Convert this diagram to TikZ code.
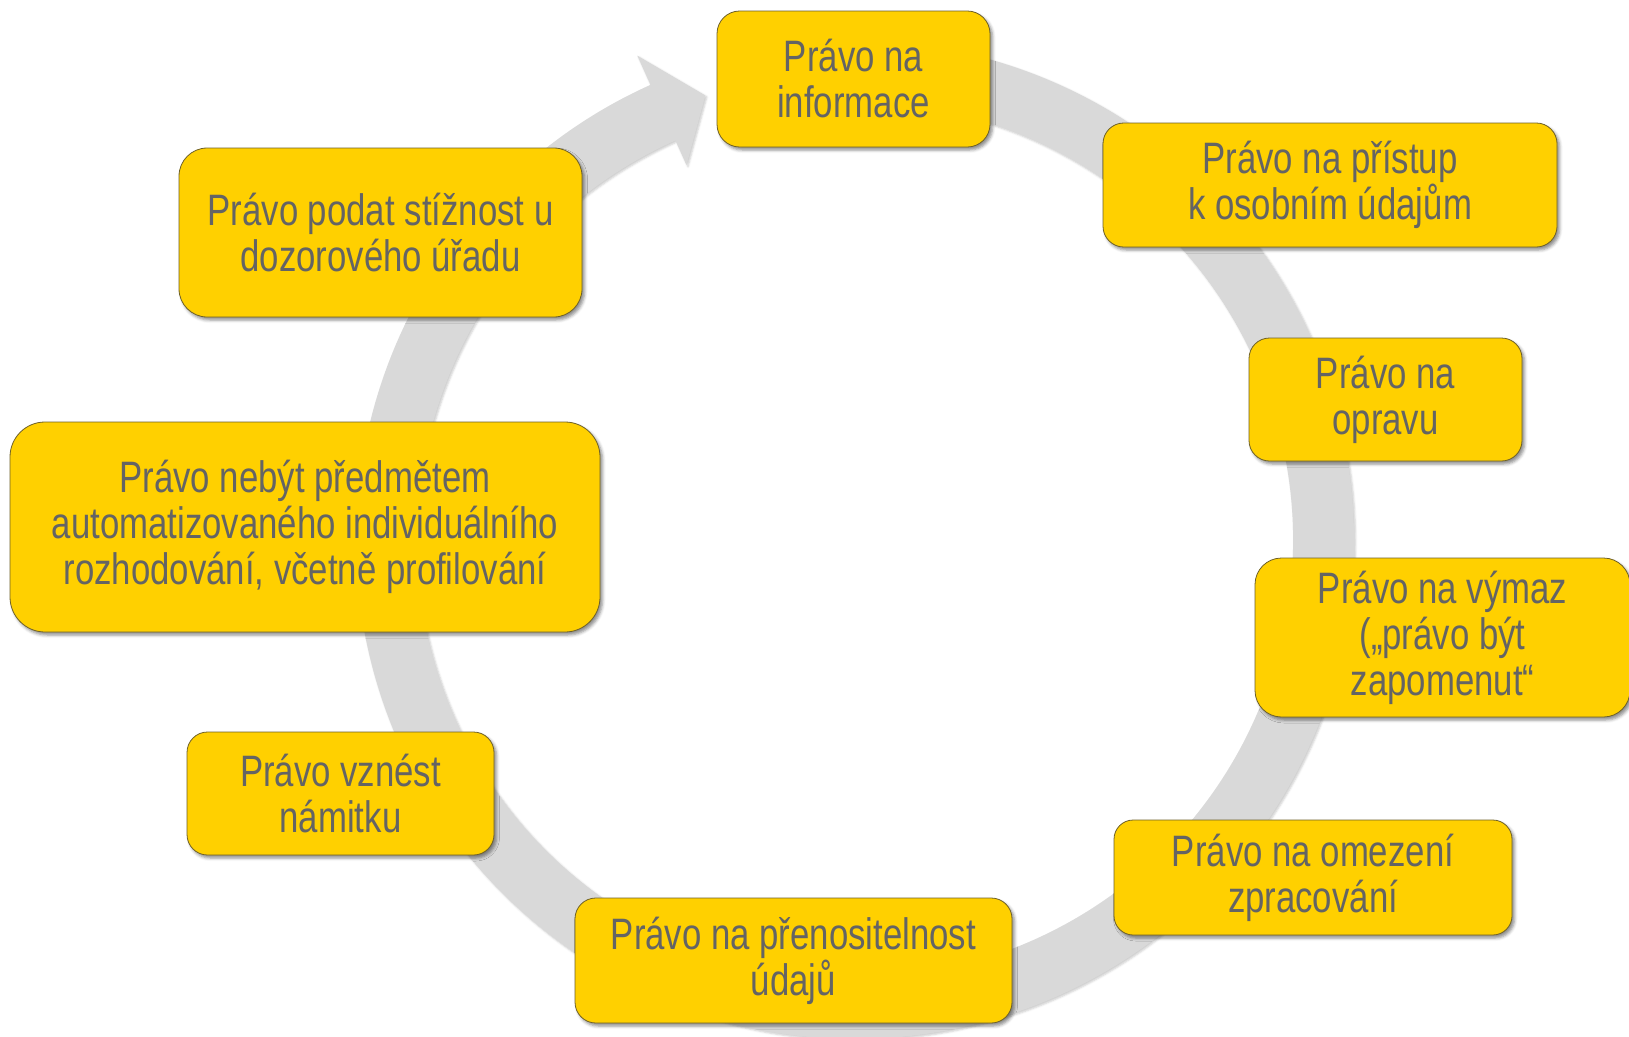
\documentclass[tikz,border=0pt]{standalone}
\usepackage{fontspec}
\setmainfont[FakeStretch=0.79]{Liberation Sans}
\usetikzlibrary{calc,shadows.blur}
\definecolor{boxfill}{RGB}{255,208,0}
\definecolor{boxline}{RGB}{110,96,40}
\definecolor{txtgray}{RGB}{100,100,100}
\definecolor{ringgray}{RGB}{217,217,217}
\begin{document}
\begin{tikzpicture}[x=1pt,y=-1pt,
  rbox/.style={draw=boxline, line width=0.8pt, fill=boxfill, text=txtgray,
    align=center, inner sep=0pt, outer sep=0pt,
    font=\fontsize{44}{46}\selectfont,
    blur shadow={shadow xshift=2.5pt, shadow yshift=-3pt,
      shadow blur radius=3pt, shadow opacity=45}},
  ring/.style={fill=ringgray,
    blur shadow={shadow xshift=1.5pt, shadow yshift=-1.5pt,
      shadow blur radius=2pt, shadow opacity=20}}
]
\useasboundingbox (0,0) rectangle (1629,1036);

% circular arrow running clockwise, its head pointing at the top box
\coordinate (c) at (855,540);
\fill[ring] ($(c)+(-95:499)$)
  arc[start angle=-95, end angle=245.8, radius=499]
  -- ($(c)+(245.8:531)$) -- ($(c)+(251.4:469)$) -- ($(c)+(245.8:411)$)
  -- ($(c)+(245.8:438)$)
  arc[start angle=245.8, end angle=-95, radius=438] -- cycle;

% the rights, placed around the ring
\node[rbox, minimum width=273pt, minimum height=136pt, rounded corners=22.7pt]
  (info) at (853.5,79) {Právo na\\informace};
\node[rbox, minimum width=454pt, minimum height=124pt, rounded corners=20.7pt]
  (access) at (1330,185) {Právo na přístup\\k osobním údajům};
\node[rbox, minimum width=273pt, minimum height=123pt, rounded corners=20.5pt]
  (rectif) at (1385.5,399.5) {Právo na\\opravu};
\node[rbox, minimum width=375pt, minimum height=159pt, rounded corners=26.5pt]
  (erase) at (1442.5,637.5) {Právo na výmaz\\(„právo být\\zapomenut“};
\node[rbox, minimum width=398pt, minimum height=115pt, rounded corners=19.2pt]
  (restrict) at (1313,877.5) {Právo na omezení\\zpracování};
\node[rbox, minimum width=437pt, minimum height=125pt, rounded corners=20.8pt]
  (port) at (793.5,960.5) {Právo na přenositelnost\\údajů};
\node[rbox, minimum width=307pt, minimum height=123pt, rounded corners=20.5pt]
  (object) at (340.5,793.5) {Právo vznést\\námitku};
\node[rbox, minimum width=590pt, minimum height=210pt, rounded corners=35pt]
  (auto) at (305,527) {Právo nebýt předmětem\\automatizovaného individuálního\\rozhodování, včetně profilování};
\node[rbox, minimum width=403pt, minimum height=169pt, rounded corners=28.2pt]
  (complain) at (380.5,232.5) {Právo podat stížnost u\\dozorového úřadu};
\end{tikzpicture}
\end{document}
